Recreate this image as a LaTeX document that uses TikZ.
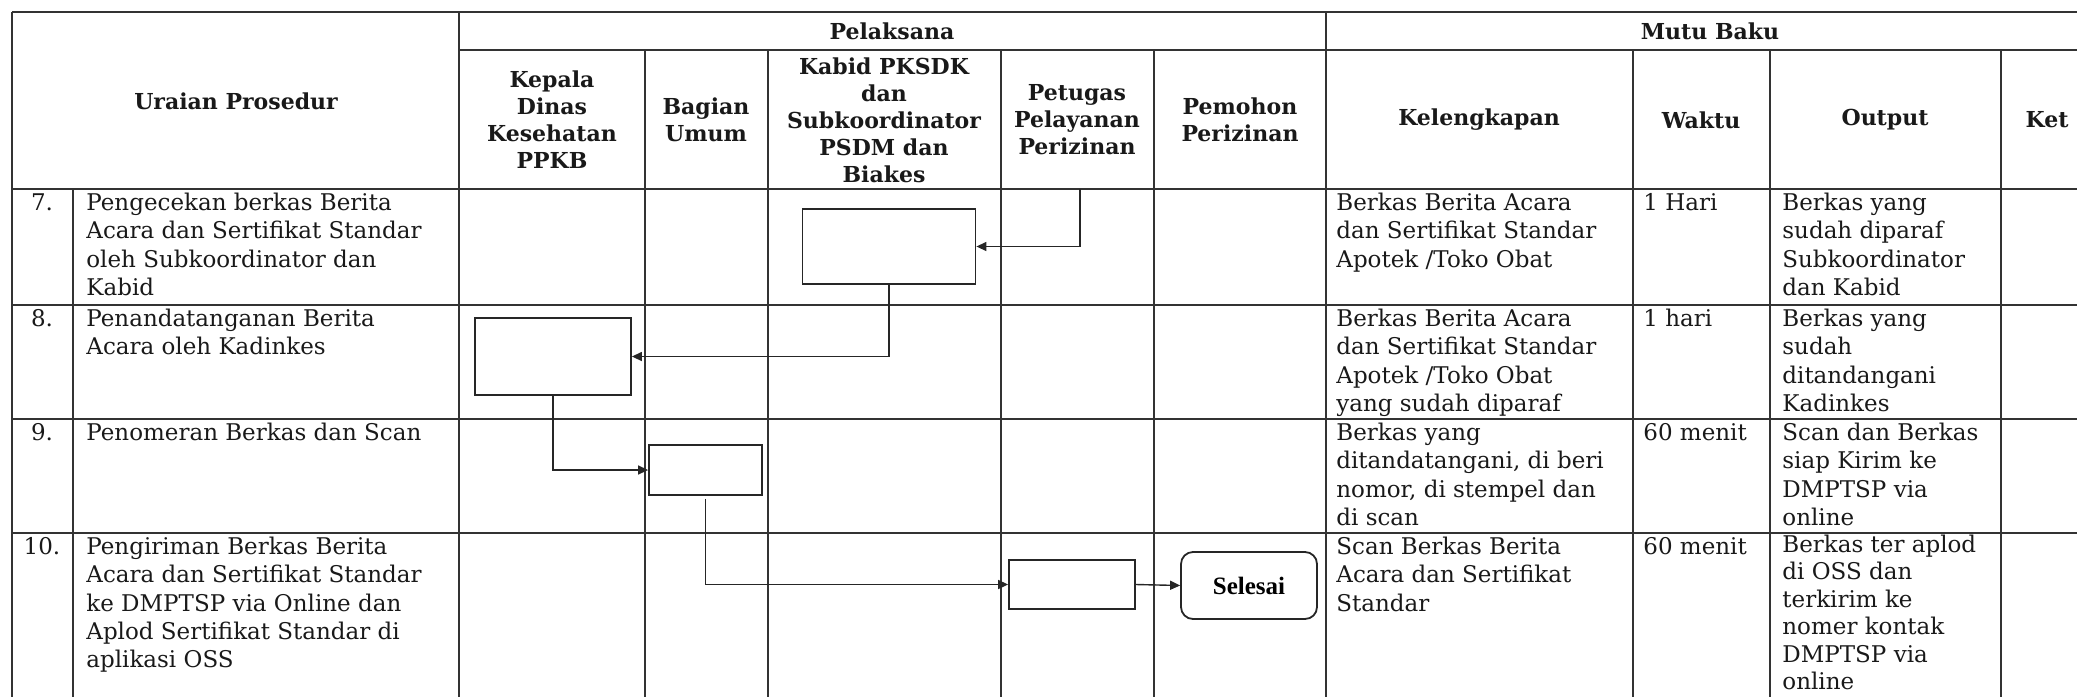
\documentclass[tikz,border=0pt]{standalone}
\usepackage{fontspec}
\setmainfont{DejaVu Serif}
\newfontfamily\selfont{Liberation Serif}
\usetikzlibrary{arrows.meta}
\begin{document}
\begin{tikzpicture}[x=0.5pt,y=-0.5pt,
  tline/.style={line width=0.7pt, draw=black!80},
  flowbox/.style={draw=black!85, line width=0.9pt, inner sep=0pt},
  conn/.style={line width=0.7pt, draw=black!85, -{Triangle[length=5pt,width=4.5pt]}},
  body/.style={font=\fontsize{11.5}{14.2}\selectfont, anchor=north west, inner sep=0pt, align=left, text=black!90},
  num/.style={font=\fontsize{11.5}{14.2}\selectfont, anchor=north, inner sep=0pt, text=black!90},
  head/.style={font=\fontsize{11}{13.5}\selectfont\bfseries, align=center, inner sep=0pt, text=black!90}]
\useasboundingbox (0,0) rectangle (2077,697);
\clip (0,0) rectangle (2077,697);
% horizontal rules
\draw[tline] (12,12) -- (2077,12);
\draw[tline] (459,50) -- (2077,50);
\foreach \yy in {189,305,419,533} \draw[tline] (12,\yy) -- (2077,\yy);
% vertical rules
\draw[tline] (12,12) -- (12,697);
\draw[tline] (73,189) -- (73,697);
\draw[tline] (459,12) -- (459,697);
\draw[tline] (1326,12) -- (1326,697);
\foreach \xx in {645,768,1001,1154,1633,1770,2001} \draw[tline] (\xx,50) -- (\xx,697);
% headers
\node[head] (hpel) at (892,31) {Pelaksana};
\node[head] (hmut) at (1710,31) {Mutu Baku};
\node[head] (hura) at (236,101) {Uraian Prosedur};
\node[head] (hkep) at (552,120) {Kepala\\Dinas\\Kesehatan\\PPKB};
\node[head] (hbag) at (706,120) {Bagian\\Umum};
\node[head] (hkab) at (884,120) {Kabid PKSDK\\dan\\Subkoordinator\\PSDM dan\\Biakes};
\node[head] (hpet) at (1077,120) {Petugas\\Pelayanan\\Perizinan};
\node[head] (hpem) at (1240,120) {Pemohon\\Perizinan};
\node[head] (hkel) at (1479,120) {Kelengkapan};
\node[head] (hwak) at (1701,120) {Waktu};
\node[head] (hout) at (1885,120) {Output};
\node[head] (hket) at (2047,120) {Ket};
% row 7
\node[num] (n7) at (42,190) {\strut 7.};
\node[body] (u7) at (86,190) {\strut Pengecekan berkas Berita\\Acara dan Sertifikat Standar\\oleh Subkoordinator dan\\Kabid};
\node[body] (k7t) at (1336,190) {\strut Berkas Berita Acara\\dan Sertifikat Standar\\Apotek /Toko Obat};
\node[body] (w7) at (1643,190) {\strut 1 Hari};
\node[body] (o7) at (1782,190) {\strut Berkas yang\\sudah diparaf\\Subkoordinator\\dan Kabid};
% row 8
\node[num] (n8) at (42,306) {\strut 8.};
\node[body] (u8) at (86,306) {\strut Penandatanganan Berita\\Acara oleh Kadinkes};
\node[body] (k8t) at (1336,306) {\strut Berkas Berita Acara\\dan Sertifikat Standar\\Apotek /Toko Obat\\yang sudah diparaf};
\node[body] (w8) at (1643,306) {\strut 1 hari};
\node[body] (o8) at (1782,306) {\strut Berkas yang\\sudah\\ditandangani\\Kadinkes};
% row 9
\node[num] (n9) at (42,420) {\strut 9.};
\node[body] (u9) at (86,420) {\strut Penomeran Berkas dan Scan};
\node[body] (k9t) at (1336,420) {\strut Berkas yang\\ditandatangani, di beri\\nomor, di stempel dan\\di scan};
\node[body] (w9) at (1643,420) {\strut 60 menit};
\node[body] (o9) at (1782,420) {\strut Scan dan Berkas\\siap Kirim ke\\DMPTSP via\\online};
% row 10
\node[num] (n10) at (42,534) {\strut 10.};
\node[body] (u10) at (86,534) {\strut Pengiriman Berkas Berita\\Acara dan Sertifikat Standar\\ke DMPTSP via Online dan\\Aplod Sertifikat Standar di\\aplikasi OSS};
\node[body] (k10t) at (1336,534) {\strut Scan Berkas Berita\\Acara dan Sertifikat\\Standar};
\node[body] (w10) at (1643,534) {\strut 60 menit};
\node[body, font=\fontsize{11.5}{13.7}\selectfont] (o10) at (1782,533) {\strut Berkas ter aplod\\di OSS dan\\terkirim ke\\nomer kontak\\DMPTSP via\\online};
% flow boxes
\node[flowbox, minimum width=86.5pt, minimum height=37.5pt] (b7) at (889,246.5) {};
\node[flowbox, minimum width=78pt, minimum height=38.5pt] (b8) at (553,356.5) {};
\node[flowbox, minimum width=56.5pt, minimum height=25pt] (b9) at (705.5,470) {};
\node[flowbox, minimum width=63pt, minimum height=24.5pt] (b10) at (1072,584.5) {};
\node[flowbox, rounded corners=6pt, minimum width=68pt, minimum height=33.5pt, font=\selfont\fontsize{12.5}{14}\selectfont\bfseries] (sel) at (1249,585.5) {Selesai};
% connectors
\coordinate (c7) at (1080,189);
\draw[conn] (c7) |- (b7.east);
\draw[conn] (b7.south) |- (b8.east);
\draw[conn] (b8.south) |- (b9.west);
\draw[conn] ([yshift=-1.5pt]b9.south) |- (b10.west);
\draw[conn] (b10.east) -- (sel.west);
\end{tikzpicture}
\end{document}
